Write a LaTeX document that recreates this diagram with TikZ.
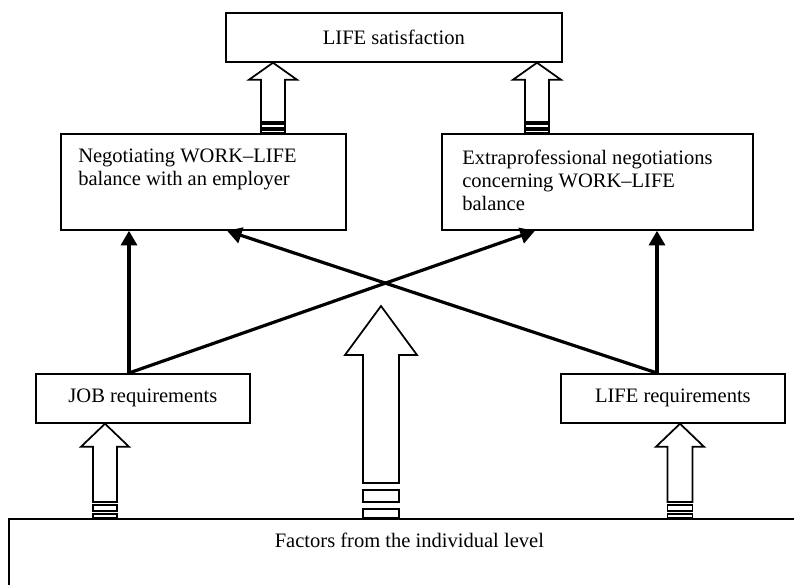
\documentclass[tikz,border=0pt]{standalone}
\usepackage{fontspec}
\setmainfont{Liberation Serif}
\usetikzlibrary{positioning,calc,arrows.meta}
\newlength{\pxu}
\setlength{\pxu}{0.75pt}
% hollow up arrow: x, lower node, upper point, shaft half width, head half width, head length, foot
\newcommand{\hollowup}[7]{
	\coordinate (hb) at (#1,0 |- #2.north);
	\coordinate (ht) at (#1,0 |- #3);
	\draw[hollow] (ht) -- ++(#5,#6) -- ++({#4-#5},0) -- ($(hb)+(#4,-#7)$)
		-- ($(hb)+(-#4,-#7)$) -- ($(ht)+(-#4,#6)$) -- ++({#4-#5},0) -- cycle;
	\draw[hollow] ($(hb)+(-#4,{-0.8*#7})$) rectangle ($(hb)+(#4,{-0.46*#7})$);
	\draw[hollow] ($(hb)+(-#4,{-0.25*#7})$) rectangle ($(hb)+(#4,0)$);
}

\begin{document}
\begin{tikzpicture}[x=0.75pt,y=-0.75pt,
	box/.style={draw, line width=1.3pt, rectangle, inner sep=0pt, anchor=north west},
	txt/.style={inner sep=0pt, font=\fontsize{15.4}{17.3}\selectfont},
	hollow/.style={draw, line width=1.3pt, fill=white},
	link/.style={line width=2.4pt, -{Triangle[length=11pt,width=12pt]}}]
	\clip (0,0) rectangle (794,585);
	\node[box, txt, minimum width=336\pxu, minimum height=49\pxu] (sat) at (225,12) {LIFE satisfaction};
	\node[box, minimum width=285\pxu, minimum height=96\pxu] (neg) at (60,133) {};
	\node[box, minimum width=311\pxu, minimum height=96\pxu] (extra) at (441,133) {};
	\node[txt, align=left, anchor=north west] (negtxt) at ($(neg.north west)+(18,16)$)
		{Negotiating WORK--LIFE\\balance with an employer};
	\node[txt, align=left, anchor=north west] (extratxt) at ($(extra.north west)+(21,17)$)
		{Extraprofessional negotiations\\concerning WORK--LIFE\\balance};
	\node[box, txt, minimum width=214\pxu, minimum height=49\pxu] (job) at (35,373) {JOB requirements};
	\node[box, txt, minimum width=224\pxu, minimum height=49\pxu] (lreq) at (560,373) {LIFE requirements};
	\node[box, minimum width=801\pxu, minimum height=100\pxu] (factors) at (8,518) {};
	\node[txt, anchor=north] (factorstxt) at ($(factors.north)+(0,15)$) {Factors from the individual level};
	\coordinate (peak) at (381,306);
	% solid links
	\draw[link] (129,0 |- job.north) -- (129,0 |- neg.south);
	\draw[link] (129,0 |- job.north) -- (535,0 |- extra.south);
	\draw[link] (657,0 |- lreq.north) -- (657,0 |- extra.south);
	\draw[link] (657,0 |- lreq.north) -- (227,0 |- neg.south);
	% hollow arrows
	\hollowup{273}{neg}{sat.south}{12}{24}{17}{11}
	\hollowup{537}{extra}{sat.south}{12}{24}{17}{11}
	\hollowup{105}{factors}{job.south}{12}{24}{23}{16}
	\hollowup{680}{factors}{lreq.south}{12.5}{24}{23}{16}
	\hollowup{381}{factors}{peak}{18}{36}{49}{35}
\end{tikzpicture}
\end{document}
